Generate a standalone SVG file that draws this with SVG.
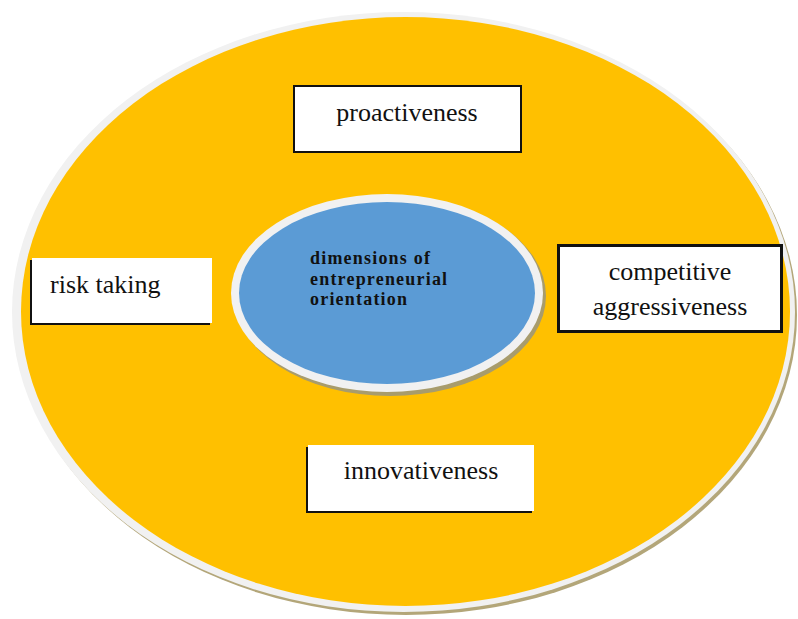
<svg xmlns="http://www.w3.org/2000/svg" width="798" height="619" viewBox="0 0 798 619">
  <defs>
    <style>
      .label { font-family: "Liberation Serif", "Times New Roman", serif; font-size: 26px; fill: #111; }
      .core { font-family: "Liberation Serif", "Times New Roman", serif; font-size: 18px; font-weight: bold; letter-spacing: 1.2px; fill: #111; }
      .box { fill: #ffffff; }
      .frame { fill: #ffffff; stroke: #111; }
      .shadow { fill: #111; }
    </style>
  </defs>
  <rect width="798" height="619" fill="#ffffff"/>

  <!-- outer ring -->
  <g id="outer">
    <ellipse cx="406" cy="315" rx="391" ry="300" fill="#b3a679"/>
    <ellipse cx="403.5" cy="312" rx="391.5" ry="300" fill="#f1f1f1"/>
    <ellipse cx="405.5" cy="311.5" rx="384.5" ry="294.5" fill="#ffc000"/>
  </g>

  <!-- centre ellipse -->
  <g id="core">
    <ellipse cx="390" cy="296" rx="156" ry="100" fill="#a89c6c"/>
    <ellipse cx="387" cy="293" rx="156" ry="99" fill="#f1f1f1"/>
    <ellipse cx="387" cy="293" rx="148" ry="91" fill="#5b9bd5"/>
    <text class="core" x="310" y="264">dimensions of</text>
    <text class="core" x="310" y="284.5">entrepreneurial</text>
    <text class="core" x="310" y="305">orientation</text>
  </g>

  <g id="connectors"/>

  <g id="proactiveness">
    <rect class="frame" x="294" y="86" width="227" height="66" stroke-width="2"/>
    <text class="label" x="407" y="121" text-anchor="middle">proactiveness</text>
  </g>

  <g id="risk-taking">
    <rect class="shadow" x="30" y="260" width="180" height="65"/>
    <rect class="box" x="32" y="258" width="180" height="65"/>
    <text class="label" x="50" y="293">risk taking</text>
  </g>

  <g id="competitive-aggressiveness">
    <rect class="frame" x="558.5" y="245.5" width="223" height="86" stroke-width="3"/>
    <text class="label" x="670" y="280" text-anchor="middle">competitive</text>
    <text class="label" x="670" y="315" text-anchor="middle">aggressiveness</text>
  </g>

  <g id="innovativeness">
    <rect class="shadow" x="306" y="447" width="226" height="66"/>
    <rect class="box" x="308" y="445" width="226" height="66"/>
    <text class="label" x="421" y="479" text-anchor="middle">innovativeness</text>
  </g>
</svg>
